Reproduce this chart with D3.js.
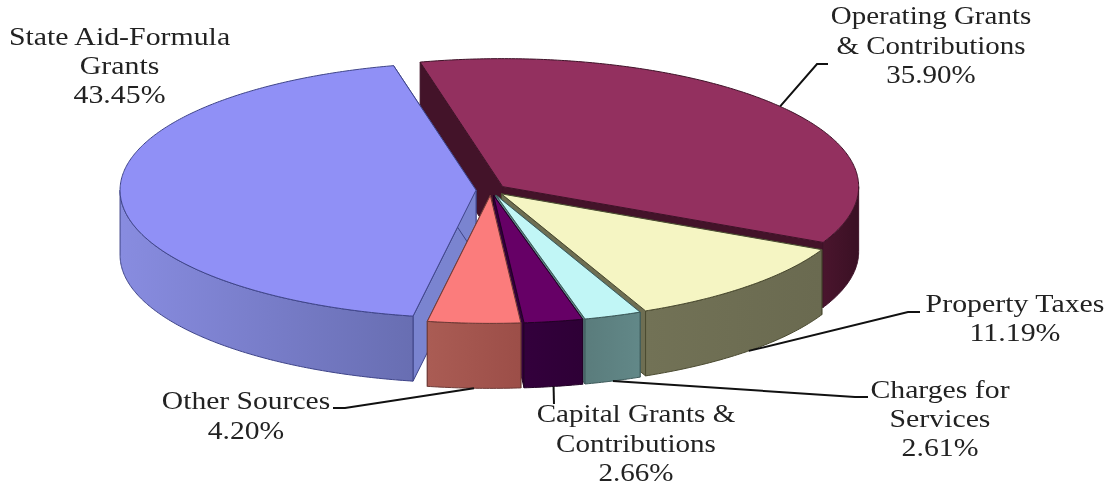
<!DOCTYPE html>
<html>
<head>
<meta charset="utf-8">
<script src="https://cdn.jsdelivr.net/npm/d3@7"></script>
<style>html,body{margin:0;padding:0;background:#fff;overflow:hidden}svg{display:block;filter:blur(0.45px)}</style>
</head>
<body>
<svg id="chart" width="1111" height="487"></svg>
<script>
// ---- data ----
const categories = ["Operating Grants & Contributions","Property Taxes","Charges for Services","Capital Grants & Contributions","Other Sources","State Aid-Formula Grants"];
const shares = [35.90,11.19,2.61,2.66,4.20,43.45];
const shareLabels = ["35.90%","11.19%","2.61%","2.66%","4.20%","43.45%"];
const labelLines = [["Operating Grants","& Contributions"],["Property Taxes"],["Charges for","Services"],["Capital Grants &","Contributions"],["Other Sources"],["State Aid-Formula","Grants"]];

// ---- styles / layout ----
const topColors  = ["#93305f","#f5f5c3","#c1f6f6","#660066","#fb7c7c","#9090f6"];
const edgeColors = ["#3f1228","#4a4a30","#3d5a5a","#220026","#6e3a36","#3e4488"];
const faceColors = ["#431329","#6e6e52","#5e8484","#33003c","#a05048","#7a84d0"];
const wallStops  = [["#4a152d","#3a1024"],["#727256","#6a6a50"],["#5a7c7c","#628888"],["#33003c","#2e0036"],["#aa5c54","#9c4e48"],["#888ce0","#686eb2"]];
const W=1111,H=487, cx=491, cy=190, rx=356, ry=128, depth=65, explode=0.042, startDeg=-13.4;
const paintOrder=[0,5,1,2,3,4];
const labelPos=[[931,24],[1015,312],[940,398],[636,422],[246,409],[119.5,45]];
const lineGap=[29.5,28.5,29,29.5,29.5,29];
const labelStretch=[1.137,1.17,1.168,1.14,1.16,1.17];
const leaderVia=[[[817,64],[828,64]],[[908,312],[920,312]],[[855,397],[868,397]],[[554,404]],[[345,408],[333,408]],null];
const fontPx=25.5;

const svg=d3.select("#chart");
const x=d3.scaleLinear().domain([-1,1]).range([-rx,rx]);
const y=d3.scaleLinear().domain([-1,1]).range([-ry,ry]);
const pie=d3.pie().sort(null).startAngle(startDeg*Math.PI/180).endAngle((startDeg+360)*Math.PI/180);
const arcs=pie(shares);
const line=d3.line();
const defs=svg.append("defs");

function centerOf(a){const m=(a.startAngle+a.endAngle)/2;
  return [cx+x(Math.sin(m)*explode),cy+y(-Math.cos(m)*explode)];}
function rim(c,t,dy=0){return [c[0]+x(Math.sin(t)),c[1]+y(-Math.cos(t))+dy];}
function sample(a0,a1){const n=Math.max(2,Math.ceil(Math.abs(a1-a0)/0.01));return d3.range(n+1).map(i=>a0+(a1-a0)*i/n);}

paintOrder.forEach(i=>{
  const a=arcs[i], c=centerOf(a), g=svg.append("g");
  const face=t=>[c,rim(c,t),rim(c,t,depth),[c[0],c[1]+depth]];
  [a.startAngle,a.endAngle].forEach(t=>{
    g.append("path").attr("d",line(face(t))+"Z").attr("fill",faceColors[i]).attr("stroke",edgeColors[i]).attr("stroke-width",1);
  });
  // visible outer wall: lower half of the ellipse
  const lo=Math.max(a.startAngle,Math.PI/2), hi=Math.min(a.endAngle,Math.PI*1.5);
  if(hi>lo){
    const ts=sample(lo,hi);
    const pts=ts.map(t=>rim(c,t)).concat(ts.slice().reverse().map(t=>rim(c,t,depth)));
    const gid="wall"+i;
    const gr=defs.append("linearGradient").attr("id",gid).attr("gradientUnits","userSpaceOnUse")
      .attr("x1",d3.min(pts,p=>p[0])).attr("x2",d3.max(pts,p=>p[0])).attr("y1",0).attr("y2",0);
    gr.append("stop").attr("offset",0).attr("stop-color",wallStops[i][0]);
    gr.append("stop").attr("offset",1).attr("stop-color",wallStops[i][1]);
    g.append("path").attr("d",line(pts)+"Z").attr("fill",`url(#${gid})`).attr("stroke",edgeColors[i]).attr("stroke-width",1);
  }
  const top=[c].concat(sample(a.startAngle,a.endAngle).map(t=>rim(c,t)));
  g.append("path").attr("d",line(top)+"Z").attr("fill",topColors[i]).attr("stroke",edgeColors[i]).attr("stroke-width",1);
});

// leader lines
arcs.forEach((a,i)=>{
  if(!leaderVia[i]) return;
  const m=(a.startAngle+a.endAngle)/2, c=centerOf(a);
  const hidden=Math.cos(m)<0;
  const s=hidden?rim(c,m,depth):rim(c,m);
  svg.append("path").attr("d",line([s].concat(leaderVia[i]))).attr("fill","none").attr("stroke","#111").attr("stroke-width",2);
});

// labels
const lab=svg.append("g").attr("font-family","'Liberation Serif',serif").attr("font-size",fontPx).attr("fill","#222").attr("text-anchor","middle");
categories.forEach((name,i)=>{
  const rows=labelLines[i].concat([shareLabels[i]]);
  rows.forEach((r,k)=>lab.append("text")
    .attr("transform",`translate(${labelPos[i][0]},${labelPos[i][1]+k*lineGap[i]}) scale(${labelStretch[i]},1)`)
    .text(r));
});
</script>
</body>
</html>
